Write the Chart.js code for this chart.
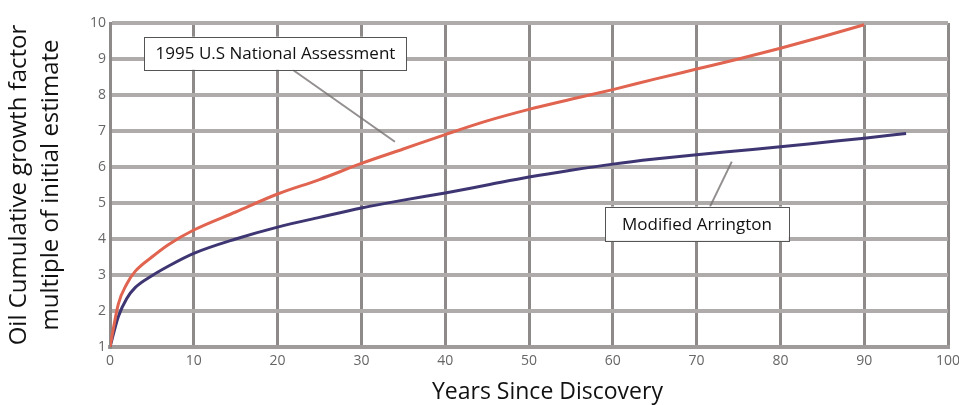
<!DOCTYPE html>
<html>
<head>
<meta charset="utf-8">
<script src="https://cdn.jsdelivr.net/npm/chart.js@4"></script>
<style>
html,body{margin:0;padding:0;background:#fff;}
#wrap{width:959px;height:405px;position:relative;}
</style>
</head>
<body>
<div id="wrap"><canvas id="c" width="959" height="405"></canvas></div>
<script>
// ---- data ----
const yearsNA = [0, 1, 2, 3, 5, 7, 10, 15, 20, 25, 30, 35, 40, 45, 50, 55, 60, 65, 70, 75, 80, 85, 90];
const nationalAssessment = [1, 2.2, 2.75, 3.1, 3.5, 3.85, 4.25, 4.75, 5.25, 5.65, 6.1, 6.5, 6.9, 7.28, 7.6, 7.88, 8.15, 8.44, 8.72, 9.0, 9.3, 9.62, 9.95];
const yearsMA = [0, 1, 2, 3, 5, 7, 10, 15, 20, 25, 30, 35, 40, 45, 50, 55, 60, 65, 70, 75, 80, 85, 90, 95];
const modifiedArrington = [1, 1.85, 2.35, 2.65, 2.98, 3.25, 3.6, 4.0, 4.33, 4.6, 4.86, 5.08, 5.28, 5.5, 5.72, 5.91, 6.08, 6.22, 6.34, 6.45, 6.56, 6.68, 6.8, 6.93];
const xTicks = [0, 10, 20, 30, 40, 50, 60, 70, 80, 90, 100];
const yTicks = [1, 2, 3, 4, 5, 6, 7, 8, 9, 10];
const seriesNames = ['1995 U.S National Assessment', 'Modified Arrington'];
const xTitle = 'Years Since Discovery';
const yTitle = ['Oil Cumulative growth factor', 'multiple of initial estimate'];
// callouts in data coordinates: box [x0,x1,yTop,yBottom], leader [from, to]
const callouts = [
  {text: seriesNames[0], box: [4.1, 35.4, 9.62, 8.7], leader: [[21.8, 8.7], [34.0, 6.7]]},
  {text: seriesNames[1], box: [59.1, 81.0, 4.9, 3.95], leader: [[71.6, 4.9], [74.2, 6.15]]}
];

const calloutPlugin = {
  id: 'callouts',
  afterDatasetsDraw(chart) {
    const ctx = chart.ctx, xs = chart.scales.x, ys = chart.scales.y;
    ctx.save();
    callouts.forEach(c => {
      const [a, b] = c.leader;
      ctx.strokeStyle = 'rgba(120,115,115,0.8)';
      ctx.lineWidth = 2;
      ctx.beginPath();
      ctx.moveTo(xs.getPixelForValue(a[0]), ys.getPixelForValue(a[1]));
      ctx.lineTo(xs.getPixelForValue(b[0]), ys.getPixelForValue(b[1]));
      ctx.stroke();
      const x0 = xs.getPixelForValue(c.box[0]), x1 = xs.getPixelForValue(c.box[1]);
      const y0 = ys.getPixelForValue(c.box[2]), y1 = ys.getPixelForValue(c.box[3]);
      ctx.fillStyle = '#fff';
      ctx.fillRect(x0, y0, x1 - x0, y1 - y0);
      ctx.strokeStyle = '#555';
      ctx.lineWidth = 1;
      ctx.strokeRect(Math.round(x0) + 0.5, Math.round(y0) + 0.5, Math.round(x1 - x0), Math.round(y1 - y0));
      ctx.fillStyle = '#111';
      ctx.font = '17px "Open Sans"';
      ctx.textAlign = 'center';
      ctx.textBaseline = 'middle';
      ctx.fillText(c.text, (x0 + x1) / 2, (y0 + y1) / 2 + 1);
    });
    // x axis title, centred a little right of the plot centre as in the original
    ctx.fillStyle = '#111';
    ctx.font = '23px "Open Sans"';
    ctx.textAlign = 'center';
    ctx.textBaseline = 'middle';
    ctx.fillText(xTitle, xs.getPixelForValue(52.2), chart.height - 13);
    ctx.restore();
  }
};

new Chart(document.getElementById('c'), {
  type: 'line',
  data: {
    datasets: [
      {
        label: seriesNames[0],
        data: yearsNA.map((x, i) => ({x: x, y: nationalAssessment[i]})),
        borderColor: '#e0644f',
        borderWidth: 3,
        pointRadius: 0,
        cubicInterpolationMode: 'monotone',
        fill: false
      },
      {
        label: seriesNames[1],
        data: yearsMA.map((x, i) => ({x: x, y: modifiedArrington[i]})),
        borderColor: '#3e3672',
        borderWidth: 3,
        pointRadius: 0,
        cubicInterpolationMode: 'monotone',
        fill: false
      }
    ]
  },
  options: {
    responsive: false,
    animation: false,
    layout: {padding: {left: 0, right: 11, top: 23, bottom: 0}},
    plugins: {legend: {display: false}, tooltip: {enabled: false}},
    scales: {
      x: {
        type: 'linear',
        min: 0, max: 100,
        afterBuildTicks: s => { s.ticks = xTicks.map(v => ({value: v})); },
        afterFit: s => { s.height = 58; s.paddingRight = 0; s.paddingLeft = 0; },
        grid: {color: '#8f8a8a', lineWidth: 3, drawTicks: false},
        border: {color: '#a09b9b', width: 4},
        ticks: {color: '#666', font: {family: 'Open Sans', size: 14}, padding: 6, maxRotation: 0, autoSkip: false},
        title: {display: false}
      },
      y: {
        type: 'linear',
        min: 1, max: 10,
        afterBuildTicks: s => { s.ticks = yTicks.map(v => ({value: v})); },
        afterFit: s => { s.width = 110; s.paddingTop = 0; s.paddingBottom = 0; },
        grid: {color: '#b0abab', lineWidth: 4, drawTicks: false},
        border: {color: '#8f8a8a', width: 3},
        ticks: {color: '#666', font: {family: 'Open Sans', size: 14}, padding: 4, autoSkip: false},
        title: {display: true, text: yTitle, color: '#111', font: {family: 'Open Sans', size: 24, lineHeight: 1.3}, padding: {top: 4, bottom: 4}}
      }
    }
  },
  plugins: [calloutPlugin]
});
</script>
</body>
</html>
